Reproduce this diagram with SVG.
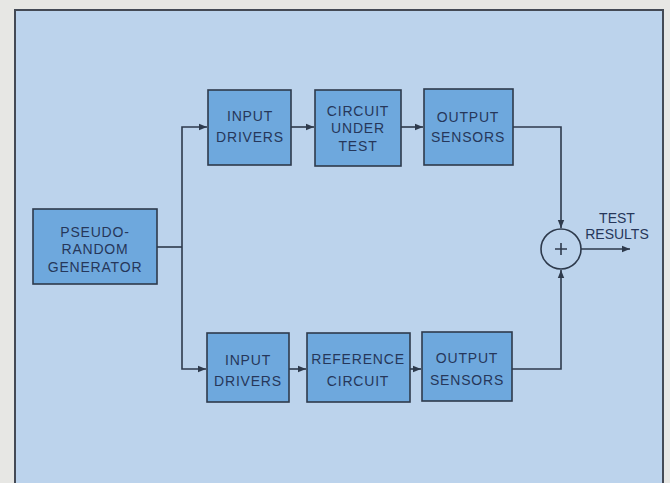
<svg xmlns="http://www.w3.org/2000/svg" width="670" height="483" viewBox="0 0 670 483">
<style>
.box{fill:#6ea8dd;stroke:#2e3a4c;stroke-width:1.6}
.t{font-family:"Liberation Sans",Arial,sans-serif;font-size:14px;fill:#26375a;text-anchor:middle;letter-spacing:0.8px}
.ln{fill:none;stroke:#2e3a4c;stroke-width:1.6}
</style>
<defs>
<marker id="ah" viewBox="0 0 10 10" refX="10" refY="5" markerWidth="8" markerHeight="8" markerUnits="userSpaceOnUse" orient="auto">
<path d="M0,1 L10,5 L0,9 Z" fill="#2e3a4c"/>
</marker>
</defs>
<rect x="0" y="0" width="670" height="483" fill="#e7e7e4"/>
<rect x="15" y="10" width="648" height="480" fill="#bcd3ec" stroke="#444a55" stroke-width="2"/>
<g id="connectors">
<path class="ln" d="M157,247 H182"/>
<path class="ln" d="M182,247 V127 H207" marker-end="url(#ah)"/>
<path class="ln" d="M182,247 V369 H206" marker-end="url(#ah)"/>
<path class="ln" d="M291,127 H314" marker-end="url(#ah)"/>
<path class="ln" d="M401,127 H423" marker-end="url(#ah)"/>
<path class="ln" d="M289,369 H306" marker-end="url(#ah)"/>
<path class="ln" d="M410,369 H421" marker-end="url(#ah)"/>
<path class="ln" d="M513,127 H561 V228" marker-end="url(#ah)"/>
<path class="ln" d="M512,369 H561 V270" marker-end="url(#ah)"/>
<path class="ln" d="M581,249 H630" marker-end="url(#ah)"/>
</g>
<g id="prg">
<rect class="box" x="33" y="209" width="124" height="75"/>
<text class="t" x="95" y="237">PSEUDO-</text>
<text class="t" x="95" y="254">RANDOM</text>
<text class="t" x="95" y="272">GENERATOR</text>
</g>
<g id="drv1">
<rect class="box" x="208" y="90" width="83" height="75"/>
<text class="t" x="250" y="121">INPUT</text>
<text class="t" x="250" y="142">DRIVERS</text>
</g>
<g id="cut">
<rect class="box" x="315" y="90" width="86" height="76"/>
<text class="t" x="358" y="116">CIRCUIT</text>
<text class="t" x="358" y="133">UNDER</text>
<text class="t" x="358" y="151">TEST</text>
</g>
<g id="out1">
<rect class="box" x="424" y="89" width="89" height="76"/>
<text class="t" x="468" y="122">OUTPUT</text>
<text class="t" x="468" y="142">SENSORS</text>
</g>
<g id="drv2">
<rect class="box" x="207" y="333" width="82" height="69"/>
<text class="t" x="248" y="365">INPUT</text>
<text class="t" x="248" y="386">DRIVERS</text>
</g>
<g id="ref">
<rect class="box" x="307" y="333" width="103" height="69"/>
<text class="t" x="358" y="364">REFERENCE</text>
<text class="t" x="358" y="386">CIRCUIT</text>
</g>
<g id="out2">
<rect class="box" x="422" y="332" width="90" height="69"/>
<text class="t" x="467" y="363">OUTPUT</text>
<text class="t" x="467" y="385">SENSORS</text>
</g>
<g id="sum">
<circle cx="561" cy="249" r="20" fill="#bcd3ec" stroke="#2e3a4c" stroke-width="1.6"/>
<path class="ln" d="M555,249 H567 M561,243 V255"/>
</g>
<g id="res">
<text class="t" x="617" y="223" style="letter-spacing:0">TEST</text>
<text class="t" x="617" y="239" style="letter-spacing:0">RESULTS</text>
</g>
</svg>
